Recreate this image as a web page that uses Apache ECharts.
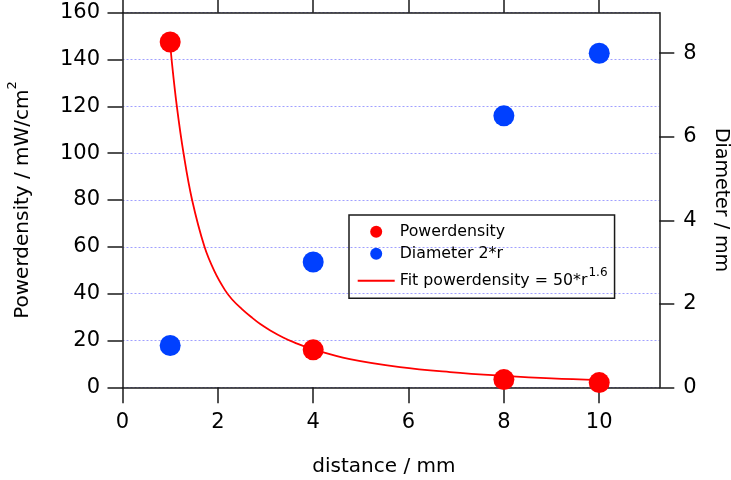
<!DOCTYPE html>
<html>
<head>
<meta charset="utf-8">
<script src="https://cdn.jsdelivr.net/npm/echarts@6/dist/echarts.min.js"></script>
<style>
  html, body { margin: 0; padding: 0; background: #fff; }
  #chart { width: 731px; height: 480px; }
</style>
</head>
<body>
<div id="chart"></div>
<script>
// Measured distances (mm)
const distance = [1, 4, 8, 10];
// Power density at each distance (mW/cm^2)
const powerDensity = [147.5, 16.0, 3.3, 2.0];
// Spot diameter 2*r at each distance (mm)
const diameter = [1, 3, 6.5, 8];
// Fitted power-density curve
const fitX = [1.0, 1.03, 1.14, 1.28, 1.46, 1.72, 1.93, 2.15, 2.3, 2.5, 2.7, 2.89, 3.1, 3.37, 3.6, 4.0, 4.77, 5.82, 6.87, 8.0, 9.0, 10.0];
const fitY = [147.5, 140, 120, 100, 80, 60, 49.5, 41.5, 37.5, 33.5, 30, 27, 24.3, 21.3, 19.2, 16.2, 12.0, 8.6, 6.5, 4.9, 3.8, 3.1];
// Axis ticks
const xTicks = [0, 2, 4, 6, 8, 10];
const leftTicks = [0, 20, 40, 60, 80, 100, 120, 140, 160];
const rightTicks = [0, 2, 4, 6, 8];

const FONT = 'DejaVu Sans';
const INK = '#1a1a1a';
const TXT = '#000';
const RED = '#ff0000';
const BLUE = '#0040ff';

const xMin = 0, xMax = 11.26;
const yLeftMax = 160, yRightMax = 8.97;
const FIT_NAME = 'Fit powerdensity = 50*r^1.6';

const axisLine = { show: true, onZero: false, lineStyle: { color: INK, width: 1.5 } };
const tickStyle = { color: INK, width: 1.5 };

const chart = echarts.init(document.getElementById('chart'), null, { renderer: 'canvas' });

chart.setOption({
  animation: false,
  backgroundColor: '#ffffff',
  grid: {
    left: 122.5, right: 71.7, top: 12.7, bottom: 92.7,
    containLabel: false,
    outerBoundsMode: 'none'
  },
  legend: {
    orient: 'vertical',
    left: 349,
    top: 215,
    data: [
      { name: 'Powerdensity', icon: 'circle' },
      { name: 'Diameter 2*r', icon: 'circle' },
      { name: FIT_NAME, itemStyle: { opacity: 0 } }
    ],
    itemWidth: 37,
    itemHeight: 12,
    itemGap: 4,
    padding: [7.7, 7, 3.6, 7.7],
    borderColor: INK,
    borderWidth: 1.5,
    borderRadius: 0,
    selectedMode: false,
    formatter: function (name) {
      const parts = name.split('^');
      return parts.length > 1 ? '{t|' + parts[0] + '}{s|' + parts[1] + '}' : name;
    },
    textStyle: {
      fontFamily: FONT,
      fontSize: 15.8,
      color: TXT,
      lineHeight: 18,
      rich: {
        t: { fontFamily: FONT, fontSize: 15.8, lineHeight: 28, color: TXT },
        s: { fontFamily: FONT, fontSize: 12, lineHeight: 12, verticalAlign: 'top', color: TXT, padding: [0, 0, 0, 1] }
      }
    }
  },
  xAxis: [
    {
      type: 'value',
      position: 'bottom',
      min: xMin,
      max: xMax,
      name: 'distance / mm',
      nameLocation: 'middle',
      nameGap: 69,
      nameTextStyle: { fontFamily: FONT, fontSize: 20, color: TXT, padding: [0, 14, 0, 0] },
      axisLine: axisLine,
      axisTick: { show: true, inside: false, length: 16, lineStyle: tickStyle, customValues: xTicks },
      axisLabel: { fontFamily: FONT, fontSize: 21, color: TXT, margin: 25, customValues: xTicks },
      splitLine: { show: false }
    },
    {
      type: 'value',
      position: 'top',
      min: xMin,
      max: xMax,
      axisLine: axisLine,
      axisTick: { show: true, inside: false, length: 16, lineStyle: tickStyle, customValues: xTicks },
      axisLabel: { show: false },
      splitLine: { show: false }
    }
  ],
  yAxis: [
    {
      type: 'value',
      position: 'left',
      min: 0,
      max: yLeftMax,
      interval: 20,
      name: '{t|Powerdensity / mW/cm}{s|2}',
      nameLocation: 'middle',
      nameGap: 82.5,
      nameTextStyle: {
        fontFamily: FONT,
        fontSize: 20,
        color: TXT,
        rich: {
          t: { fontFamily: FONT, fontSize: 20, lineHeight: 34, color: TXT },
          s: { fontFamily: FONT, fontSize: 13, lineHeight: 14, verticalAlign: 'top', color: TXT }
        }
      },
      axisLine: axisLine,
      axisTick: { show: true, inside: false, length: 15, lineStyle: tickStyle, customValues: leftTicks },
      axisLabel: { fontFamily: FONT, fontSize: 21, color: TXT, margin: 22.5, customValues: leftTicks },
      splitLine: { show: true, lineStyle: { color: '#a0a0ff', width: 1, type: [2, 2] } }
    },
    {
      type: 'value',
      position: 'right',
      min: 0,
      max: yRightMax,
      name: 'Diameter / mm',
      nameLocation: 'middle',
      nameRotate: -90,
      nameGap: 52,
      nameTextStyle: { fontFamily: FONT, fontSize: 19, color: TXT },
      axisLine: axisLine,
      axisTick: { show: true, inside: false, length: 15, lineStyle: tickStyle, customValues: rightTicks },
      axisLabel: { fontFamily: FONT, fontSize: 21, color: TXT, margin: 24, customValues: rightTicks },
      splitLine: { show: false }
    }
  ],
  series: [
    {
      name: FIT_NAME,
      type: 'line',
      xAxisIndex: 0,
      yAxisIndex: 0,
      data: fitX.map((x, i) => [x, fitY[i]]),
      smooth: 0.4,
      symbol: 'none',
      lineStyle: { color: RED, width: 1.8 },
      itemStyle: { color: RED },
      z: 2
    },
    {
      name: 'Powerdensity',
      type: 'scatter',
      xAxisIndex: 0,
      yAxisIndex: 0,
      data: distance.map((x, i) => [x, powerDensity[i]]),
      symbol: 'circle',
      symbolSize: 21,
      itemStyle: { color: RED, opacity: 1 },
      z: 3
    },
    {
      name: 'Diameter 2*r',
      type: 'scatter',
      xAxisIndex: 0,
      yAxisIndex: 1,
      data: distance.map((x, i) => [x, diameter[i]]),
      symbol: 'circle',
      symbolSize: 21,
      itemStyle: { color: BLUE, opacity: 1 },
      z: 3
    }
  ]
});
</script>
</body>
</html>
